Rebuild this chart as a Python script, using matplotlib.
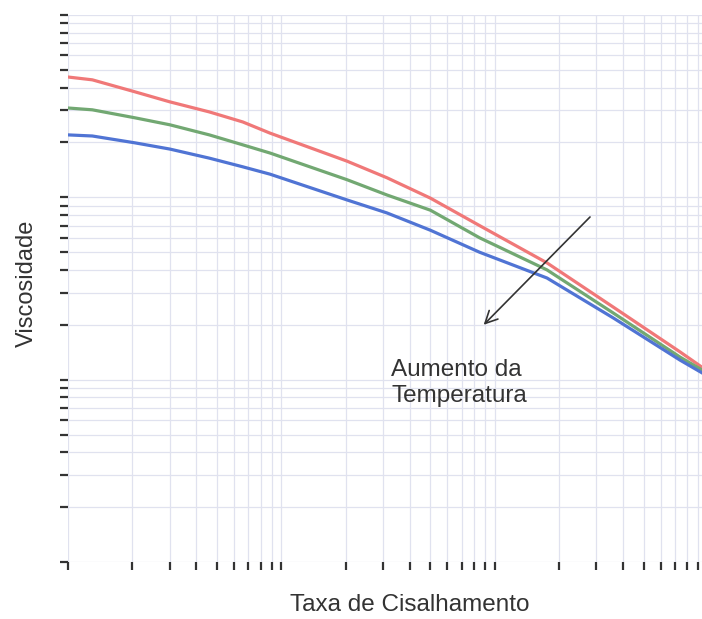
# Viscosidade x Taxa de Cisalhamento (log-log)

import matplotlib
matplotlib.use("Agg")
import matplotlib.pyplot as plt
from matplotlib.ticker import LogLocator, NullFormatter

plt.rcParams["font.family"] = ["Liberation Sans", "DejaVu Sans"]

# Data
shear = [1.0, 1.3, 2.06, 3.0, 4.6, 6.6, 8.85, 20.3, 31.3, 50, 85, 176, 360, 740, 938]
visc_red = [457, 441, 379, 334, 294, 259, 225, 158, 128, 99, 70, 43.7, 25.0, 14.2, 11.7]
visc_green = [309, 302, 273, 250, 220, 194, 175, 125, 103, 85, 60, 40.0, 23.2, 13.3, 11.3]
visc_blue = [220, 217, 199, 184, 164, 147, 134, 96.8, 82.1, 66, 50, 36.1, 21.8, 12.8, 10.9]

arrow_start = (286, 80)
arrow_end = (87, 19.5)

fig = plt.figure(figsize=(7.02, 6.19), dpi=100)
ax = fig.add_axes([68 / 702, 57 / 619, 634 / 702, 547 / 619])

ax.plot(shear, visc_red, "-", color="#f07878", lw=2.3)
ax.plot(shear, visc_green, "-", color="#72a872", lw=2.3)
ax.plot(shear, visc_blue, "-", color="#5074d4", lw=2.3)

ax.set_xscale("log")
ax.set_yscale("log")
ax.set_xlim(1, 938)
ax.set_ylim(1, 1000)

for axis in (ax.xaxis, ax.yaxis):
    axis.set_major_locator(LogLocator(base=10, numticks=10))
    axis.set_minor_locator(LogLocator(base=10, subs=range(2, 10), numticks=20))
    axis.set_major_formatter(NullFormatter())
    axis.set_minor_formatter(NullFormatter())

ax.tick_params(which="both", direction="out", length=6, width=1.6, color="#333333")
ax.tick_params(axis="x", which="both", top=False)
ax.tick_params(axis="y", which="both", right=False)

ax.grid(True, which="both", color="#e0e2ef", lw=0.9)
ax.set_axisbelow(True)
for s in ax.spines.values():
    s.set_visible(False)

# Arrow + note
ax.annotate("", xy=arrow_end, xytext=arrow_start,
            arrowprops=dict(arrowstyle="->", color="#333333", lw=1.2, mutation_scale=22))
ax.text(0.51, 0.372, "Aumento da\nTemperatura", transform=ax.transAxes,
        fontsize=17.5, color="#333333", va="top", ha="left", linespacing=1.25)

# axis titles (the original plot area runs past the right edge of the crop)
fig.text(410 / 702, 1 - 605 / 619, "Taxa de Cisalhamento", fontsize=17.5,
         color="#333333", ha="center", va="center")
fig.text(27 / 702, 1 - 283 / 619, "Viscosidade", fontsize=17, rotation=90,
         color="#333333", ha="center", va="center")

fig.savefig("out.png", dpi=100, facecolor="white")
